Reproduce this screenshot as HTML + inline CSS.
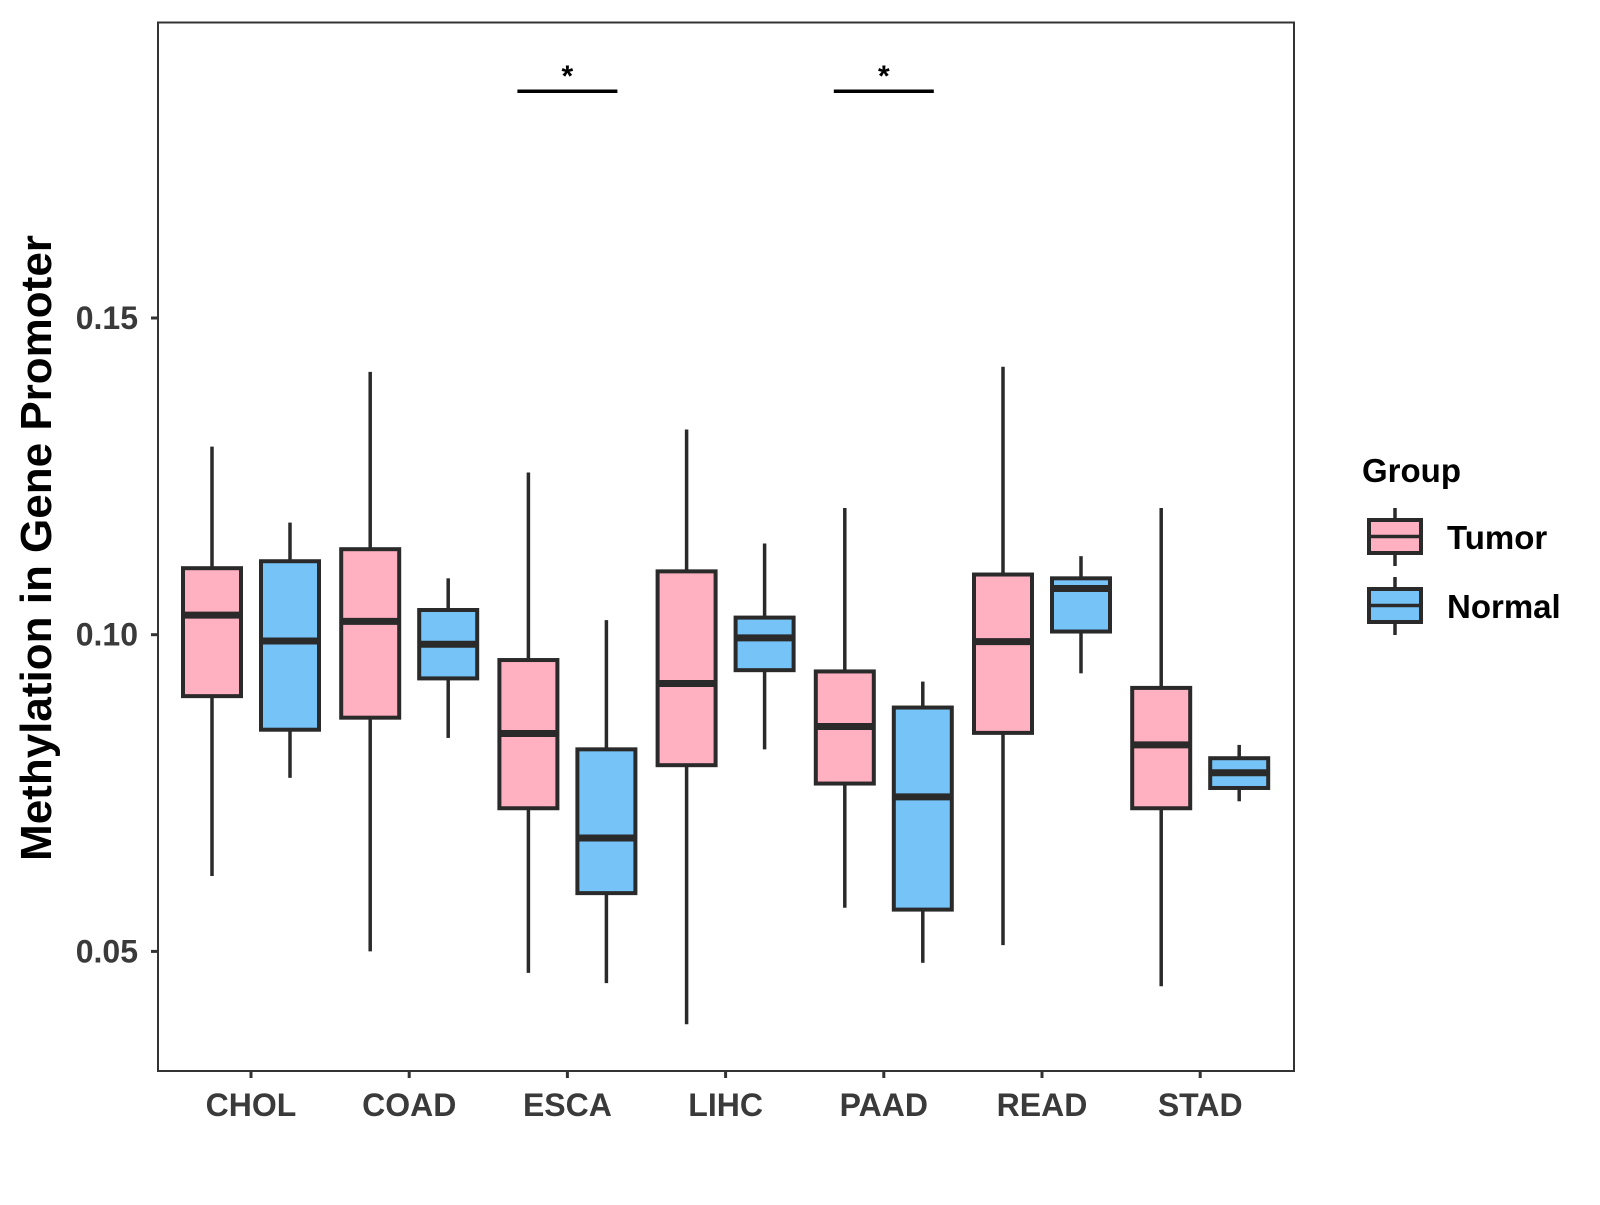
<!DOCTYPE html>
<html><head><meta charset="utf-8"><style>
body{margin:0;background:#fff}
svg text{font-family:"Liberation Sans",Arial,sans-serif;font-weight:bold}
</style></head><body>
<svg id="chart" width="1600" height="1200" viewBox="0 0 1600 1200" xmlns="http://www.w3.org/2000/svg">
<rect x="158" y="22.5" width="1136" height="1048.5" fill="#fff" stroke="#333" stroke-width="2"/>
<g id="marks"></g>
<text transform="translate(51,548) rotate(-90)" text-anchor="middle" font-size="44" fill="#000">Methylation in Gene Promoter</text>
<text x="1362" y="482" font-size="33" fill="#000">Group</text>
<g>
<line x1="1395" y1="508" x2="1395" y2="566" stroke="#2a2a2a" stroke-width="3.5"/>
<rect x="1369" y="520" width="52" height="33" fill="#FFB0C1" stroke="#2a2a2a" stroke-width="4"/>
<line x1="1369" y1="536.5" x2="1421" y2="536.5" stroke="#2a2a2a" stroke-width="3.5"/>
<text x="1447" y="549" font-size="33" fill="#000">Tumor</text>
</g>
<g>
<line x1="1395" y1="577" x2="1395" y2="635" stroke="#2a2a2a" stroke-width="3.5"/>
<rect x="1369" y="589" width="52" height="33" fill="#76C3F8" stroke="#2a2a2a" stroke-width="4"/>
<line x1="1369" y1="605.5" x2="1421" y2="605.5" stroke="#2a2a2a" stroke-width="3.5"/>
<text x="1447" y="618" font-size="33" fill="#000">Normal</text>
</g>
</svg>
<script>
const categories=["CHOL","COAD","ESCA","LIHC","PAAD","READ","STAD"];
const tumorLo=[0.0619,0.0500,0.0466,0.0385,0.0569,0.0510,0.0445];
const tumorQ1=[0.0903,0.0869,0.0726,0.0794,0.0765,0.0845,0.0726];
const tumorMed=[0.1031,0.1021,0.0844,0.0923,0.0855,0.0989,0.0826];
const tumorQ3=[0.1105,0.1135,0.0960,0.1100,0.0942,0.1095,0.0916];
const tumorHi=[0.1297,0.1415,0.1256,0.1324,0.1200,0.1423,0.1200];
const normalLo=[0.0774,0.0837,0.0450,0.0819,0.0482,0.0939,0.0737];
const normalQ1=[0.0850,0.0931,0.0592,0.0944,0.0566,0.1005,0.0758];
const normalMed=[0.0990,0.0985,0.0679,0.0995,0.0744,0.1073,0.0782];
const normalQ3=[0.1116,0.1039,0.0819,0.1027,0.0885,0.1089,0.0805];
const normalHi=[0.1177,0.1089,0.1023,0.1144,0.0926,0.1124,0.0826];
const yTicks=[0.05,0.10,0.15];
const yTickLabels=["0.05","0.10","0.15"];
const sigCategories=["ESCA","PAAD"];
const sigLevel=0.1858;
const sigLabels=["*","*"];

const NS="http://www.w3.org/2000/svg";
const g=document.getElementById('marks');
function y(v){return 634.7-(v-0.10)*6334;}
function x(i){return 251+i*158.2;}
function mk(tag,attrs,parent){const e=document.createElementNS(NS,tag);for(const k in attrs)e.setAttribute(k,attrs[k]);(parent||g).appendChild(e);return e;}
const stroke="#2a2a2a";
yTicks.forEach((t,i)=>{
  const tk=mk('line',{x1:151,x2:158,y1:y(t),y2:y(t),stroke:"#333","stroke-width":3});
  
  
  const tx=mk('text',{x:138,y:y(t)+11,"text-anchor":"end","font-size":32,fill:"#3a3a3a"});
  
  
  tx.textContent=yTickLabels[i];
});
function box(cx,lo,q1,med,q3,hi,fill,name){
  const grp=mk('g',{});
  
  
  mk('line',{x1:cx,x2:cx,y1:y(hi),y2:y(q3),stroke:stroke,"stroke-width":3.5},grp);
  mk('line',{x1:cx,x2:cx,y1:y(q1),y2:y(lo),stroke:stroke,"stroke-width":3.5},grp);
  mk('rect',{x:cx-29,y:y(q3),width:58,height:y(q1)-y(q3),fill:fill,stroke:stroke,"stroke-width":4},grp);
  mk('line',{x1:cx-29,x2:cx+29,y1:y(med),y2:y(med),stroke:stroke,"stroke-width":7},grp);
}
categories.forEach((c,i)=>{
  const cx=x(i);
  box(cx-39,tumorLo[i],tumorQ1[i],tumorMed[i],tumorQ3[i],tumorHi[i],"#FFB0C1","box-tumor-"+c.toLowerCase());
  box(cx+39,normalLo[i],normalQ1[i],normalMed[i],normalQ3[i],normalHi[i],"#76C3F8","box-normal-"+c.toLowerCase());
  const tk=mk('line',{x1:cx,x2:cx,y1:1071,y2:1078,stroke:"#333","stroke-width":3});
  
  
  const tx=mk('text',{x:cx,y:1116,"text-anchor":"middle","font-size":32,fill:"#3a3a3a"});
  
  
  tx.textContent=c;
});
sigCategories.forEach((c,k)=>{
  const i=categories.indexOf(c);const cx=x(i);
  const ln=mk('line',{x1:cx-50,x2:cx+50,y1:y(sigLevel),y2:y(sigLevel),stroke:"#000","stroke-width":3.5});
  
  
  const st=mk('text',{x:cx,y:y(sigLevel)-5,"text-anchor":"middle","font-size":30,fill:"#000"});
  
  
  st.textContent=sigLabels[k];
});
</script>
</body></html>
